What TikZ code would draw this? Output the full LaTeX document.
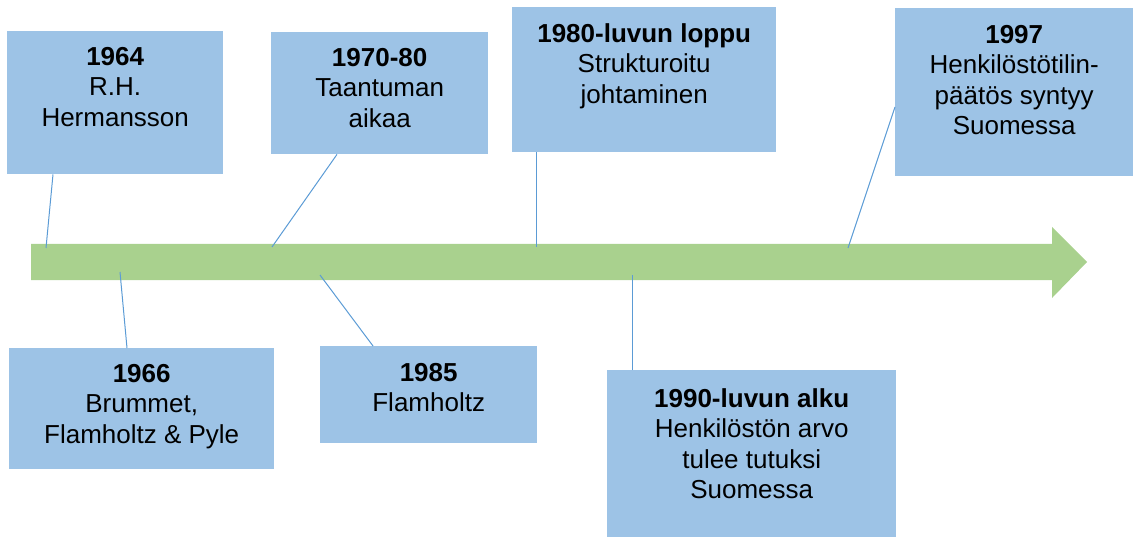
\documentclass[tikz,border=0pt]{standalone}
\usepackage{fontspec}
\setmainfont{Liberation Sans}
\usetikzlibrary{calc}
\definecolor{boxblue}{HTML}{9DC3E6}
\definecolor{arrowgreen}{HTML}{A9D18E}
\definecolor{linkblue}{HTML}{5B9BD5}
\begin{document}
\begin{tikzpicture}[x=1pt,y=-1pt,
  eventbox/.style={fill=boxblue, draw=none, inner sep=0pt, anchor=north west},
  eventtext/.style={anchor=north, align=center, inner sep=0pt,
    font=\fontsize{26}{30.5}\selectfont},
  link/.style={draw=linkblue, line width=1pt}]
\useasboundingbox (0,0) rectangle (1134,537);

% timeline arrow
\fill[arrowgreen] (31,244) -- (1052,244) -- (1052,227) -- (1087,262)
  -- (1052,298) -- (1052,280) -- (31,280) -- cycle;
\coordinate (t1964) at (46,248);
\coordinate (t1970) at (272,247);
\coordinate (t1980) at (536,247);
\coordinate (t1997) at (848,248);
\coordinate (t1966) at (120,272);
\coordinate (t1985) at (320,275);
\coordinate (t1990) at (632,275);

% event boxes above the timeline
\node[eventbox, minimum width=216, minimum height=143] (b1964) at (7,31) {};
\node[eventbox, minimum width=217, minimum height=122] (b1970) at (271,32) {};
\node[eventbox, minimum width=264, minimum height=145] (b1980) at (512,7) {};
\node[eventbox, minimum width=238, minimum height=168] (b1997) at (895,8) {};
% event boxes below the timeline
\node[eventbox, minimum width=265, minimum height=121] (b1966) at (9,348) {};
\node[eventbox, minimum width=217, minimum height=97]  (b1985) at (320,346) {};
\node[eventbox, minimum width=289, minimum height=167] (b1990) at (607,370) {};

% box texts
\node[eventtext] (x1964) at ($(b1964.north)+(0,16)$)
  {\textbf{1964}\\R.H.\\Hermansson};
\node[eventtext] (x1970) at ($(b1970.north)+(0,16)$)
  {\textbf{1970-80}\\Taantuman\\aikaa};
\node[eventtext] (x1980) at ($(b1980.north)+(0,16)$)
  {\textbf{1980-luvun loppu}\\Strukturoitu\\johtaminen};
\node[eventtext] (x1997) at ($(b1997.north)+(0,17)$)
  {\textbf{1997}\\Henkilöstötilin-\\päätös syntyy\\Suomessa};
\node[eventtext] (x1966) at ($(b1966.north)+(0,16)$)
  {\textbf{1966}\\Brummet,\\Flamholtz \& Pyle};
\node[eventtext] (x1985) at ($(b1985.north)+(0,17)$)
  {\textbf{1985}\\Flamholtz};
\node[eventtext] (x1990) at ($(b1990.north)+(0,18)$)
  {\textbf{1990-luvun alku}\\Henkilöstön arvo\\tulee tutuksi\\Suomessa};

% connectors from boxes to the timeline
\draw[link] ($(b1964.south west)+(46,0)$) -- (t1964);
\draw[link] ($(b1970.south west)+(66,0)$) -- (t1970);
\draw[link] ($(b1980.south west)+(24,0)$) -- (t1980);
\draw[link] ($(b1997.north west)+(0,99)$) -- (t1997);
\draw[link] ($(b1966.north west)+(118,0)$) -- (t1966);
\draw[link] ($(b1985.north west)+(53,0)$) -- (t1985);
\draw[link] ($(b1990.north west)+(25,0)$) -- (t1990);
\end{tikzpicture}
\end{document}
